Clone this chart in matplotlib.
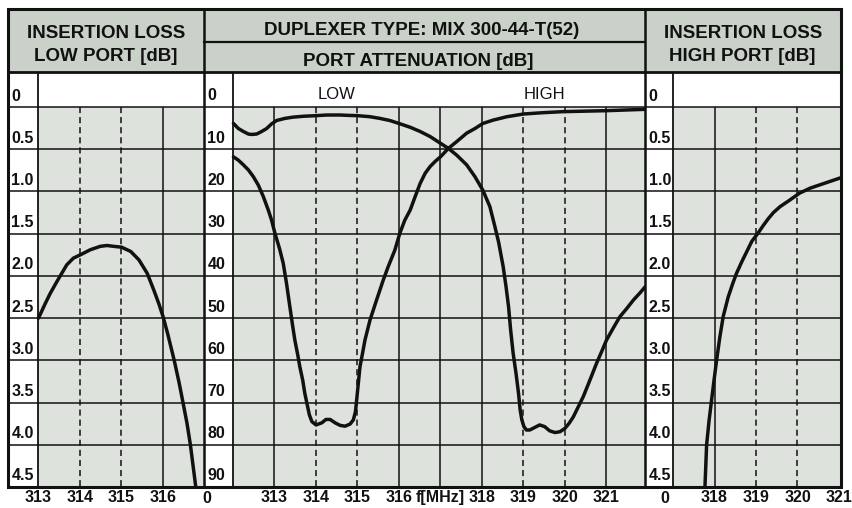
import matplotlib
matplotlib.use("Agg")
import matplotlib.pyplot as plt
from matplotlib.patches import Rectangle
import matplotlib.transforms as mtransforms

# ---------------- data ----------------
# Insertion loss, low port (dB)
low_il_freq = [313.0, 313.16, 313.28, 313.44, 313.68, 313.84, 314.01, 314.25, 314.49,
               314.65, 314.81, 315.0, 315.22, 315.42, 315.62, 315.78, 315.9, 316.0,
               316.11, 316.27, 316.39, 316.47, 316.58, 316.66, 316.79]
low_il_db = [2.50, 2.33, 2.21, 2.07, 1.87, 1.79, 1.75, 1.69, 1.65,
             1.64, 1.65, 1.66, 1.71, 1.81, 1.97, 2.17, 2.33, 2.48,
             2.68, 3.0, 3.27, 3.47, 3.75, 4.0, 4.5]

# Port attenuation, LOW port (dB)
att_low_freq = [312.01, 312.13, 312.25, 312.37, 312.45, 312.57, 312.69, 312.81, 312.93,
                313.05, 313.25, 313.45, 313.69, 314.0, 314.26, 314.58, 314.82, 315.0,
                315.3, 315.54, 315.78, 316.0, 316.27, 316.51, 316.75, 317.0, 317.19,
                317.39, 317.63, 317.83, 318.02, 318.19, 318.31, 318.4, 318.51, 318.58,
                318.64, 318.69, 318.75, 318.82, 318.88, 318.92, 318.96, 319.01, 319.07,
                319.15, 319.27, 319.39, 319.51, 319.63, 319.76, 319.88, 320.0, 320.1,
                320.2, 320.32, 320.44, 320.6, 320.76, 320.88, 321.0, 321.16, 321.32,
                321.49, 321.65, 321.81, 321.93]
att_low_db = [3.9, 5.1, 5.8, 6.4, 6.5, 6.4, 5.8, 5.1, 4.0,
              3.2, 2.7, 2.4, 2.2, 2.05, 1.9, 1.9, 2.0, 2.05,
              2.3, 2.7, 3.2, 3.9, 4.8, 5.8, 7.0, 8.6, 9.8,
              11.4, 13.7, 16.5, 19.7, 23.6, 28.3, 32.0, 37.8, 42.6,
              47.3, 52.8, 58.3, 63.1, 67.8, 71.8, 74.1, 75.7, 76.5,
              76.5, 75.9, 75.3, 75.7, 76.7, 77.1, 76.9, 76.1, 74.9,
              73.4, 71.0, 68.6, 64.7, 60.7, 58.0, 55.2, 52.4, 49.7,
              47.7, 45.7, 44.0, 42.6]

# Port attenuation, HIGH port (dB)
att_high_freq = [312.01, 312.13, 312.25, 312.37, 312.49, 312.61, 312.73, 312.85, 312.93,
                 313.01, 313.12, 313.21, 313.29, 313.37, 313.44, 313.49, 313.56, 313.61,
                 313.68, 313.73, 313.79, 313.84, 313.9, 314.0, 314.14, 314.24, 314.34,
                 314.46, 314.58, 314.7, 314.82, 314.9, 314.95, 314.98, 315.02, 315.06,
                 315.12, 315.18, 315.3, 315.46, 315.62, 315.74, 315.9, 316.02, 316.14,
                 316.27, 316.39, 316.51, 316.63, 316.75, 316.87, 317.0, 317.19, 317.39,
                 317.63, 317.83, 318.02, 318.27, 318.6, 319.0, 319.48, 319.96, 321.0,
                 321.93]
att_high_db = [11.8, 12.6, 13.7, 14.9, 16.5, 18.5, 21.2, 24.4, 26.8,
               29.9, 33.5, 37.0, 41.8, 47.3, 52.0, 55.2, 58.7, 61.5,
               64.7, 67.8, 70.6, 72.9, 74.5, 75.3, 74.8, 74.0, 74.0,
               74.8, 75.4, 75.6, 75.1, 74.1, 72.2, 69.4, 65.4, 61.5,
               58.4, 55.2, 50.5, 45.7, 41.0, 37.8, 33.9, 29.9, 26.8,
               24.4, 21.2, 18.1, 15.7, 14.1, 12.9, 11.8, 9.8, 8.2,
               6.2, 5.1, 3.9, 3.1, 2.3, 1.66, 1.34, 1.1, 0.87,
               0.55]

# Insertion loss, high port (dB)
high_il_freq = [317.77, 317.81, 317.87, 317.93, 317.99, 318.05, 318.13, 318.21, 318.33,
                318.44, 318.53, 318.66, 318.78, 318.9, 319.04, 319.18, 319.3, 319.42,
                319.58, 319.82, 320.05, 320.31, 320.55, 320.79, 321.03]
high_il_db = [4.5, 4.0, 3.71, 3.47, 3.23, 3.0, 2.72, 2.48, 2.25,
              2.09, 1.97, 1.83, 1.71, 1.59, 1.50, 1.40, 1.32, 1.25,
              1.18, 1.10, 1.02, 0.96, 0.92, 0.88, 0.84]

# axis values / labels
il_levels = [0, 0.5, 1.0, 1.5, 2.0, 2.5, 3.0, 3.5, 4.0, 4.5]
il_labels = ["0", "0.5", "1.0", "1.5", "2.0", "2.5", "3.0", "3.5", "4.0", "4.5"]
att_levels = [0, 10, 20, 30, 40, 50, 60, 70, 80, 90]
att_labels = ["0", "10", "20", "30", "40", "50", "60", "70", "80", "90"]

left_xticks = [313, 314, 315, 316]
left_xlabels = ["313", "314", "315", "316"]
mid_xticks = [313, 314, 315, 316, 317, 318, 319, 320, 321]
mid_xlabels = ["313", "314", "315", "316", "f[MHz]", "318", "319", "320", "321"]
right_xticks = [318, 319, 320, 321]
right_xlabels = ["318", "319", "320", "321"]

left_solid = [316]
left_dashed = [314, 315]
mid_solid = [313, 316, 317, 318, 321]
mid_dashed = [314, 315, 319, 320]
right_solid = [318]
right_dashed = [319, 320]

title_left = ["INSERTION LOSS", "LOW PORT [dB]"]
title_mid = ["DUPLEXER TYPE: MIX 300-44-T(52)", "PORT ATTENUATION [dB]"]
title_right = ["INSERTION LOSS", "HIGH PORT [dB]"]

# ---------------- style ----------------
W, H = 852, 508
HEADER_GRAY = "#c9d1c9"
PLOT_GRAY = "#dde2dc"
INK = "#111111"
FONT = "Liberation Sans"
CURVE_LW = 2.5
GRID_LW = 1.1
TICK_FS = 11.5

fig = plt.figure(figsize=(W / 100, H / 100), dpi=100)

# layout (pixels)
TOP, HEAD_BOT, GRAY_TOP, BOT = 9, 72, 107, 487
LEFT, SEP1, SEP2, RIGHT = 8, 204, 645, 841
PX_PER_MHZ = 41.5


def px_axes(x0, y0, x1, y1, z=1):
    return fig.add_axes([x0 / W, 1 - y1 / H, (x1 - x0) / W, (y1 - y0) / H], zorder=z)


bg = px_axes(0, 0, W, H, z=0)
bg.set_xlim(0, W)
bg.set_ylim(H, 0)
bg.axis("off")
bg.add_patch(Rectangle((LEFT, TOP), RIGHT - LEFT, HEAD_BOT - TOP, facecolor=HEADER_GRAY,
                       edgecolor="none"))


def make_panel(x0, xlab, x1, f_lab, ymax, levels, labels, solid, dashed, xt, xl,
               zero_dx):
    ax = px_axes(x0, HEAD_BOT, x1, BOT, z=2)
    f_lo = f_lab - (xlab - x0) / PX_PER_MHZ
    f_hi = f_lab + (x1 - xlab) / PX_PER_MHZ
    ppu = (BOT - GRAY_TOP) / ymax
    ax.set_xlim(f_lo, f_hi)
    ax.set_ylim(ymax, -(GRAY_TOP - HEAD_BOT) / ppu)
    ax.set_facecolor("white")
    for s in ax.spines.values():
        s.set_visible(False)
    ax.add_patch(Rectangle((f_lab, 0), f_hi - f_lab, ymax, facecolor=PLOT_GRAY,
                           edgecolor="none", zorder=0))
    ax.hlines(levels, f_lo, f_hi, colors=INK, lw=GRID_LW, zorder=1)
    ax.vlines([f_lab], ax.get_ylim()[1], ymax, colors=INK, lw=GRID_LW + 0.2, zorder=1)
    ax.vlines(solid, 0, ymax, colors=INK, lw=GRID_LW, zorder=1)
    ax.vlines(dashed, 0, ymax, colors=INK, lw=GRID_LW, linestyles=(0, (4, 2.6)), zorder=1)
    tr = mtransforms.blended_transform_factory(ax.transAxes, ax.transData)
    tr = mtransforms.offset_copy(tr, fig=fig, x=3.5, y=6.5, units="dots")
    for v, lab in zip(levels, labels):
        ax.text(0, v, lab, transform=tr, ha="left", va="baseline", fontsize=TICK_FS,
                fontweight="bold", family=FONT, color=INK)
    ax.set_yticks([])
    ax.set_xticks(xt)
    ax.set_xticklabels(xl, fontsize=TICK_FS, fontweight="bold", family=FONT, color=INK)
    ax.tick_params(axis="x", length=0, pad=2.5)
    if zero_dx is not None:
        trz = mtransforms.offset_copy(ax.transAxes, fig=fig, x=zero_dx, y=-4, units="dots")
        ax.text(0, 0, "0", transform=trz, ha="center", va="top", fontsize=TICK_FS,
                fontweight="bold", family=FONT, color=INK)
    return ax


axL = make_panel(LEFT, 38.5, SEP1, 313, 4.5, il_levels, il_labels, left_solid,
                 left_dashed, left_xticks, left_xlabels, None)
axM = make_panel(SEP1, 233, SEP2, 312, 90, att_levels, att_labels, mid_solid,
                 mid_dashed, mid_xticks, mid_xlabels, 3)
axR = make_panel(SEP2, 673, RIGHT, 317, 4.5, il_levels, il_labels, right_solid,
                 right_dashed, right_xticks, right_xlabels, 20)

kw = dict(color=INK, lw=CURVE_LW, solid_capstyle="round", solid_joinstyle="round", zorder=3)
axL.plot(low_il_freq, low_il_db, **kw)
axM.plot(att_low_freq, att_low_db, **kw)
axM.plot(att_high_freq, att_high_db, **kw)
axR.plot(high_il_freq, high_il_db, **kw)

axM.text(314.5, -2.9, "LOW", ha="center", va="center", fontsize=12, family=FONT, color=INK)
axM.text(319.5, -2.9, "HIGH", ha="center", va="center", fontsize=12, family=FONT, color=INK)

# overlay: frame, separators, header texts
ov = px_axes(0, 0, W, H, z=5)
ov.set_xlim(0, W)
ov.set_ylim(H, 0)
ov.axis("off")
ov.patch.set_alpha(0)
ov.add_patch(Rectangle((LEFT, TOP), RIGHT - LEFT, BOT - TOP, fill=False, edgecolor=INK,
                       lw=2.2))
ov.plot([LEFT, RIGHT], [HEAD_BOT, HEAD_BOT], color=INK, lw=2.0)
ov.plot([SEP1, SEP2], [41.5, 41.5], color=INK, lw=1.6)
ov.plot([SEP1, SEP1], [TOP, BOT], color=INK, lw=1.8)
ov.plot([SEP2, SEP2], [TOP, BOT], color=INK, lw=1.8)

tkw = dict(ha="center", va="baseline", fontsize=13.5, fontweight="bold", family=FONT, color=INK)
ov.text(106, 38, title_left[0], **tkw)
ov.text(106, 61, title_left[1], **tkw)
ov.text(422, 35, title_mid[0], **tkw)
ov.text(418, 66.5, title_mid[1], **tkw)
ov.text(743, 38, title_right[0], **tkw)
ov.text(742, 61, title_right[1], **tkw)

fig.savefig("out.png", dpi=100)
